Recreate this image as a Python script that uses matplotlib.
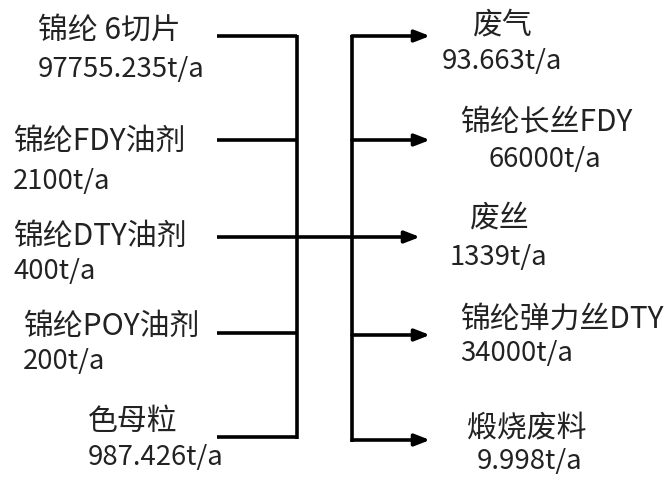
import matplotlib
matplotlib.use("Agg")
import matplotlib.pyplot as plt

plt.rcParams['font.family'] = ['Noto Sans CJK SC', 'DejaVu Sans']

# Data
input_names = ["锦纶 6切片", "锦纶FDY油剂", "锦纶DTY油剂", "锦纶POY油剂", "色母粒"]
input_values = ["97755.235t/a", "2100t/a", "400t/a", "200t/a", "987.426t/a"]
output_names = ["废气", "锦纶长丝FDY", "废丝", "锦纶弹力丝DTY", "煅烧废料"]
output_values = ["93.663t/a", "66000t/a", "1339t/a", "34000t/a", "9.998t/a"]

# Layout (pixels)
in_y = [36, 140, 237, 333, 437]
out_y = [36, 140, 237, 335, 440]
in_name_x = [38, 13, 13, 23, 88]
in_name_y = [30, 141, 236, 326, 421]
in_val_x = [38, 13, 13, 23, 88]
in_val_y = [69, 181, 271, 362, 457]
out_name_x = [473, 460, 470, 460, 467]
out_name_y = [25, 122, 219, 319, 429]
out_val_x = [442, 488, 450, 460, 477]
out_val_y = [62, 159, 257, 354, 461]
arrow_end = [430, 430, 420, 430, 430]

fig = plt.figure(figsize=(6.68, 4.80), dpi=100)
ax = fig.add_axes([0, 0, 1, 1])
ax.set_xlim(0, 668)
ax.set_ylim(480, 0)
ax.axis('off')

lw = 2.6
col = 'black'
# left bus
ax.plot([297, 297], [in_y[0] - 1, in_y[-1] + 1.5], color=col, lw=lw, solid_capstyle='butt')
for y in in_y:
    ax.plot([217, 297], [y, y], color=col, lw=lw, solid_capstyle='butt')
# right bus
ax.plot([352, 352], [out_y[0] - 1, out_y[-1] + 1.5], color=col, lw=lw, solid_capstyle='butt')
for i, y in enumerate(out_y):
    x0 = 297 if i == 2 else 352
    ax.annotate('', xy=(arrow_end[i], y), xytext=(x0, y),
                arrowprops=dict(arrowstyle='-|>,head_length=0.9,head_width=0.35',
                                color=col, lw=lw, shrinkA=0, shrinkB=0))

txtc = '#222222'
for n, v, nx, ny, vx, vy in zip(input_names, input_values, in_name_x, in_name_y, in_val_x, in_val_y):
    ax.text(nx, ny, n, fontsize=21.5, ha='left', va='center', color=txtc)
    ax.text(vx, vy, v, fontsize=19.8, ha='left', va='center', color=txtc)
for n, v, nx, ny, vx, vy in zip(output_names, output_values, out_name_x, out_name_y, out_val_x, out_val_y):
    ax.text(nx, ny, n, fontsize=21.5, ha='left', va='center', color=txtc)
    ax.text(vx, vy, v, fontsize=19.8, ha='left', va='center', color=txtc)

fig.savefig('out.png', dpi=100)
